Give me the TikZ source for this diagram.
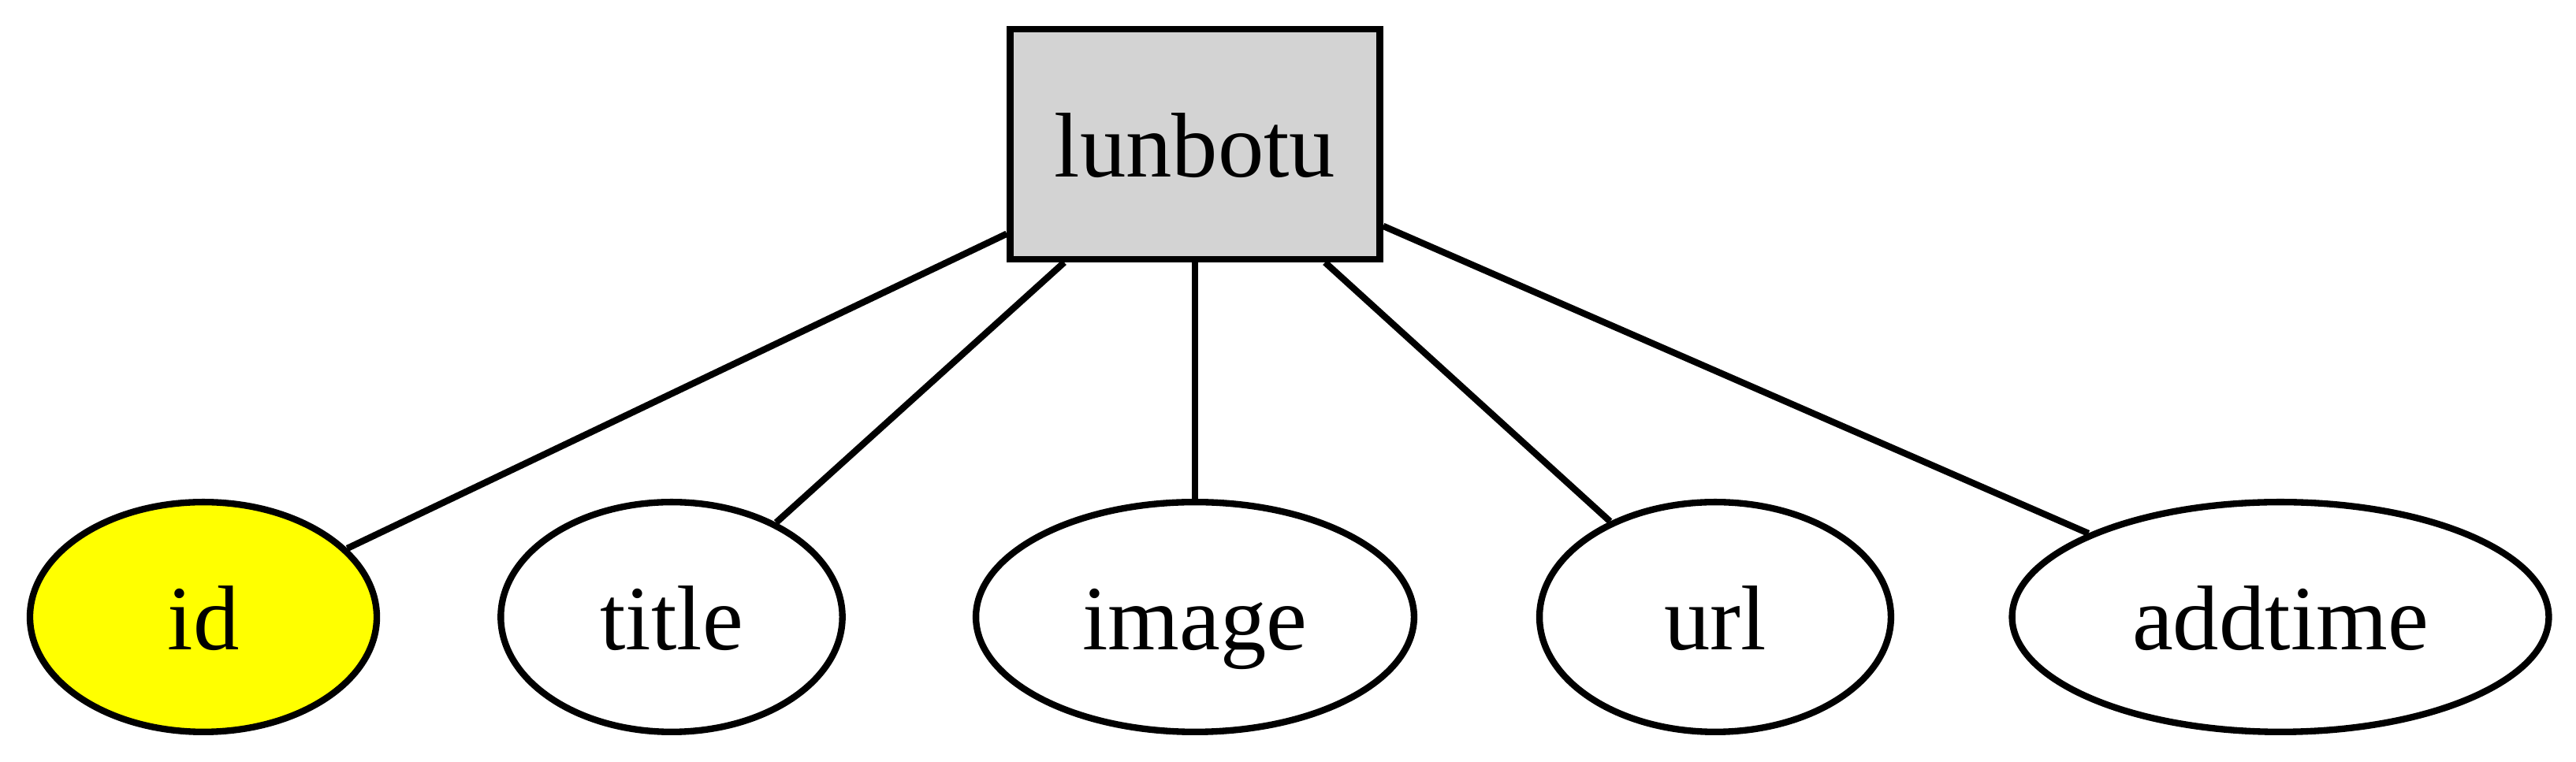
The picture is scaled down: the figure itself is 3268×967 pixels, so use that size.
\documentclass[tikz,border=0pt]{standalone}
\usepackage{fontspec}
\setmainfont{Liberation Serif}
\usetikzlibrary{shapes.geometric}
\definecolor{lightgrey}{RGB}{211,211,211}
\definecolor{keyyellow}{RGB}{255,255,0}
\tikzset{
  table/.style={draw, line width=1pt, fill=lightgrey, rectangle, inner sep=0pt,
    minimum width=56.3pt, minimum height=35pt, text height=10pt, text depth=0pt},
  field/.style={draw, line width=1pt, ellipse, inner sep=0pt, minimum height=35pt,
    text height=10pt, text depth=0pt},
  link/.style={line width=1pt}
}
\begin{document}
\begin{tikzpicture}[x=0.12pt, y=-0.12pt, font=\fontsize{14}{16}\selectfont]
			%%%%% START %%%%%
			\useasboundingbox (0, 0) rectangle (3268, 967);
			
			\node[table] (lunbotu) at (1516, 183) {lunbotu};
			
			\node[field, fill=keyyellow, minimum width=52.8pt] (id) at (258, 783) {id};
			\node[field, minimum width=52pt] (title) at (852, 783) {title};
			\node[field, minimum width=66.7pt] (image) at (1516, 783) {image};
			\node[field, minimum width=53.5pt] (url) at (2176, 783) {url};
			\node[field, minimum width=81.7pt] (addtime) at (2893, 783) {addtime};
			
			\draw[link] (lunbotu) -- (id);
			\draw[link] (lunbotu) -- (title);
			\draw[link] (lunbotu) -- (image);
			\draw[link] (lunbotu) -- (url);
			\draw[link] (lunbotu) -- (addtime);
			
			%%%%% END %%%%%
\end{tikzpicture}
\end{document}
